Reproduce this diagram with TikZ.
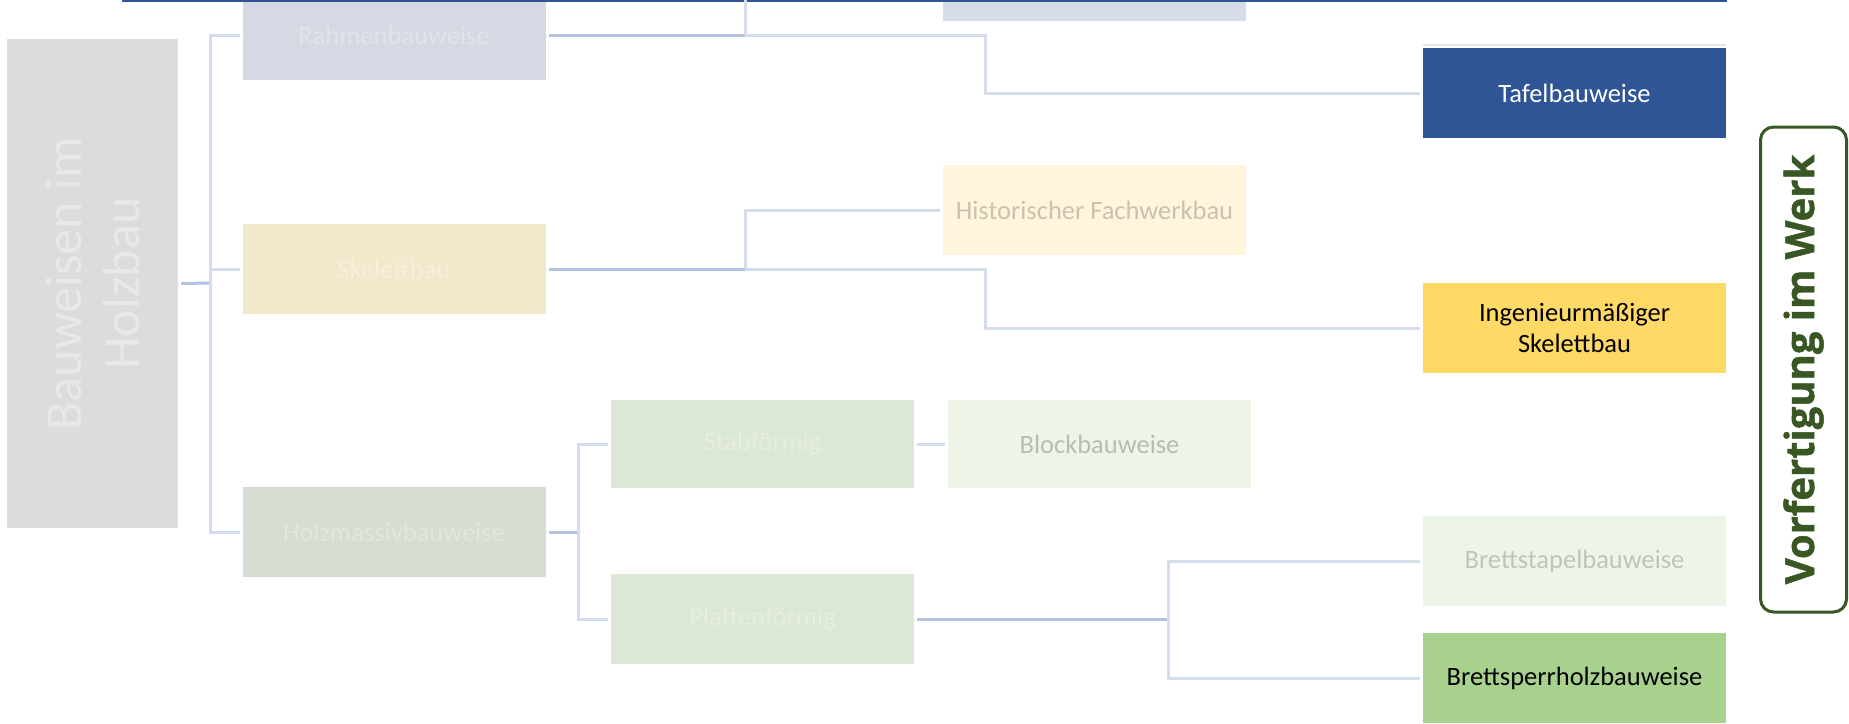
\documentclass[tikz,border=0pt]{standalone}
\usepackage{fontspec}
\setmainfont{Carlito}
\newfontfamily\vfont{Open Sans}[UprightFont={* Bold}, UprightFeatures={FakeBold=1.2}]
\definecolor{cRahmen}{HTML}{D4D9E3}
\definecolor{tRahmen}{HTML}{DFE3EB}
\definecolor{cTop}{HTML}{D6DCE8}
\definecolor{cTafel}{HTML}{2F5597}
\definecolor{cSkel}{HTML}{F2E8CC}
\definecolor{tSkel}{HTML}{F6EFDD}
\definecolor{cHist}{HTML}{FFF5DC}
\definecolor{tHist}{HTML}{C9C2AE}
\definecolor{cIng}{HTML}{FFD966}
\definecolor{cHolz}{HTML}{D8DDD3}
\definecolor{tHolz}{HTML}{E2E6DE}
\definecolor{cStab}{HTML}{DDE7D6}
\definecolor{tStab}{HTML}{E6EDE1}
\definecolor{cBlock}{HTML}{EDF4E8}
\definecolor{tBlock}{HTML}{B8BDB3}
\definecolor{tBrett}{HTML}{C0C5BB}
\definecolor{cSperr}{HTML}{A9D18E}
\definecolor{cRoot}{HTML}{DCDCDC}
\definecolor{tRoot}{HTML}{E8E8E8}
\definecolor{cGreen}{HTML}{385723}
\definecolor{cLink}{HTML}{D5DCEE}
\definecolor{cLinkDk}{HTML}{B4C3E0}
\begin{document}
\begin{tikzpicture}[x=1pt,y=1pt,
  box/.style={rectangle, inner sep=0pt, minimum width=303pt, minimum height=90pt,
    font=\fontsize{26.5}{31}\selectfont, align=center},
  lk/.style={draw=cLink, line width=3pt},
  dk/.style={draw=cLinkDk, line width=3pt},
  rootbox/.style={rectangle, inner sep=0pt, fill=cRoot, text=tRoot, rotate=90,
    minimum width=489pt, minimum height=171pt, align=center,
    font=\fontsize{52}{58}\selectfont},
  vorbox/.style={rectangle, rounded corners=13pt, draw=cGreen, line width=3pt,
    inner sep=0pt, rotate=90, minimum width=485pt, minimum height=86pt,
    text=cGreen, font=\vfont\fontsize{40}{46}\selectfont}
]
\useasboundingbox (0,0) rectangle (1849,-723);
\clip (0,0) rectangle (1849,-723);
\fill[white] (0,0) rectangle (1849,-723);

% nodes
\node[rootbox] (root) at (92.5,-283.5) {Bauweisen im\\Holzbau};
\node[box, fill=cRahmen, text=tRahmen] (rahmen) at (394,-35) {Rahmenbauweise};
\node[box, fill=cTop] (oben) at (1094.5,24) {};
\node[box, fill=cTafel, text=white] (tafel) at (1574.5,-93) {Tafelbauweise};
\node[box, fill=cSkel, text=tSkel] (skelett) at (394,-269) {Skelettbau};
\node[box, fill=cHist, text=tHist] (hist) at (1094.5,-210) {Historischer Fachwerkbau};
\node[box, fill=cIng, text=black] (ing) at (1574.5,-328) {Ingenieurmäßiger\\Skelettbau};
\node[box, fill=cHolz, text=tHolz] (holz) at (394,-532) {Holzmassivbauweise};
\node[box, fill=cStab, text=tStab, minimum height=88pt] (stab) at (762.5,-444) {Stabförmig};
\node[box, fill=cBlock, text=tBlock, minimum height=88pt] (block) at (1099.5,-444) {Blockbauweise};
\node[box, fill=cStab, text=tStab] (platten) at (762.5,-619) {Plattenförmig};
\node[box, fill=cBlock, text=tBrett] (stapel) at (1574.5,-561) {Brettstapelbauweise};
\node[box, fill=cSperr, text=black] (sperr) at (1574.5,-678) {Brettsperrholzbauweise};
\node[vorbox] (vor) at (1803.5,-369.5) {Vorfertigung im Werk};

% top decorations
\draw[cTafel, line width=2.5pt] (122,-1) -- (1727,-1);
\draw[cRahmen!70, line width=1.5pt] (1423,-45) -- (1726,-45);

% connectors root
\coordinate (j0) at (210,-283);
\draw[dk] ([xshift=3pt]root.south) -- (j0);
\draw[lk] ([xshift=-2pt]rahmen.west) -| (j0) |- ([xshift=-2pt]holz.west);
\draw[lk] (j0 |- skelett.west) -- ([xshift=-2pt]skelett.west);

% Rahmenbauweise
\coordinate (j1) at (745,-35);
\coordinate (k1) at (985,-35);
\draw[dk] ([xshift=3pt]rahmen.east) -- (j1);
\draw[lk] (j1) |- (oben.west);
\draw[lk] (j1) -- (k1) |- ([xshift=-3pt]tafel.west);

% Skelettbau
\coordinate (j2) at (745,-269);
\coordinate (k2) at (985,-269);
\draw[dk] ([xshift=3pt]skelett.east) -- (j2);
\draw[lk] (j2) |- ([xshift=-3pt]hist.west);
\draw[lk] (j2) -- (k2) |- ([xshift=-3pt]ing.west);

% Holzmassivbauweise
\coordinate (j3) at (578,-532);
\draw[dk] ([xshift=3pt]holz.east) -- (j3);
\draw[lk] (j3) |- ([xshift=-3pt]stab.west);
\draw[lk] (j3) |- ([xshift=-3pt]platten.west);
\draw[lk] ([xshift=3pt]stab.east) -- ([xshift=-3pt]block.west);

% Plattenfoermig
\coordinate (j4) at (1168,-619);
\draw[dk] ([xshift=3pt]platten.east) -- (j4);
\draw[lk] (j4) |- ([xshift=-3pt]stapel.west);
\draw[lk] (j4) |- ([xshift=-3pt]sperr.west);
\end{tikzpicture}
\end{document}
